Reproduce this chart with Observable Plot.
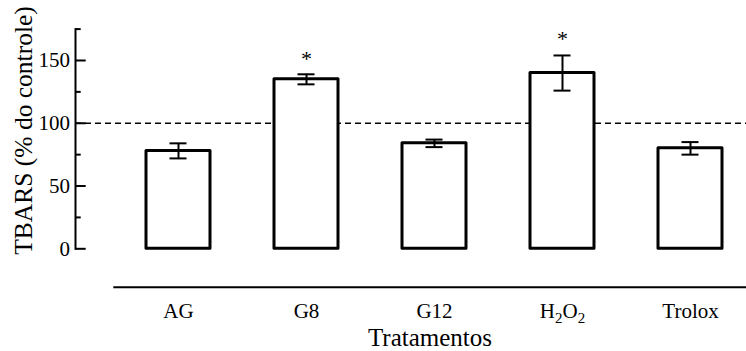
<!DOCTYPE html>
<html>
<head>
<meta charset="utf-8">
<script src="https://cdn.jsdelivr.net/npm/d3@7"></script>
<script src="https://cdn.jsdelivr.net/npm/@observablehq/plot@0.6"></script>
<style>
  html, body { margin: 0; padding: 0; background: #fff; }
  #chart svg { display: block; }
  #chart svg text { font-family: "Liberation Serif", "Times New Roman", serif !important; }
</style>
</head>
<body>
<div id="chart"></div>
<script>
const categories = ["AG", "G8", "G12", "H2O2", "Trolox"];
const means = [78, 135, 84, 140, 80];
const errors = [6, 4, 3, 14, 5];
const starCategories = ["G8", "H2O2"];
const starValues = [151.6, 167.5];
const majorTicks = [0, 50, 100, 150];
const minorTicks = [25, 75, 125, 175];
const referenceLine = [100];
const yLabel = "TBARS (% do controle)";
const xLabel = "Tratamentos";

const data = categories.map((c, i) => ({cat: c, mean: means[i], lo: means[i] - errors[i], hi: means[i] + errors[i]}));
const stars = starCategories.map((c, i) => ({cat: c, y: starValues[i]}));

const W = 746, H = 351;
const mL = 75, mR = 0, mT = 28.6, mB = 102.7;
const frameW = W - mL - mR;
const font = "Liberation Serif, Times New Roman, serif";

const chart = Plot.plot({
  width: W,
  height: H,
  marginLeft: mL,
  marginRight: mR,
  marginTop: mT,
  marginBottom: mB,
  style: {fontFamily: font, fontSize: "21px", background: "#fff", color: "#000"},
  x: {domain: categories, range: [81.2, 786.3], padding: 0.5},
  y: {domain: [0, 175]},
  marks: [
    Plot.ruleY(referenceLine, {stroke: "#000", strokeWidth: 1.5, strokeDasharray: "6,4"}),
    Plot.barY(data, {x: "cat", y: "mean", fill: "#fff", stroke: "#000", strokeWidth: 3, strokeLinejoin: "round"}),
    Plot.ruleX(data, {x: "cat", y1: "lo", y2: "hi", stroke: "#000", strokeWidth: 2}),
    Plot.tickY(data, {x: "cat", y: "lo", stroke: "#000", strokeWidth: 2, inset: 23.5}),
    Plot.tickY(data, {x: "cat", y: "hi", stroke: "#000", strokeWidth: 2, inset: 23.5}),
    Plot.text(stars, {x: "cat", y: "y", text: () => "*", fontSize: 22, fontFamily: font, lineAnchor: "middle", fill: "#000"}),
    Plot.frame({anchor: "left", stroke: "#000", strokeWidth: 2}),
    Plot.ruleY(majorTicks, {stroke: "#000", strokeWidth: 2, insetRight: frameW - 10.7}),
    Plot.ruleY(minorTicks, {stroke: "#000", strokeWidth: 2, insetRight: frameW - 5.7}),
    Plot.ruleY([0], {stroke: "#000", strokeWidth: 2, dy: 38.4, insetLeft: 38.3}),
    Plot.axisY(majorTicks, {tickSize: 0, tickPadding: 5.5, fontSize: 21, fontFamily: font, label: null}),
    Plot.axisX({tickSize: 0, tickPadding: 54, fontSize: 21, fontFamily: font, label: null}),
    Plot.text([yLabel], {frameAnchor: "left", rotate: -90, dx: -52, dy: -8.5, fontSize: 25.5, fontFamily: font, lineAnchor: "middle", textAnchor: "middle", fill: "#000"}),
    Plot.text([xLabel], {frameAnchor: "bottom", dx: 19, dy: 97, fontSize: 25, fontFamily: font, lineAnchor: "bottom", textAnchor: "middle", fill: "#000"})
  ]
});

// subscripts for H2O2
d3.select(chart).selectAll("text").each(function() {
  if (this.textContent === "H2O2" && this.childElementCount === 0) {
    const t = d3.select(this);
    t.text(null);
    t.append("tspan").text("H");
    t.append("tspan").attr("font-size", 15).attr("dy", 5).text("2");
    t.append("tspan").attr("font-size", 21).attr("dy", -5).text("O");
    t.append("tspan").attr("font-size", 15).attr("dy", 5).text("2");
  }
});

document.getElementById("chart").appendChild(chart);
</script>
</body>
</html>
